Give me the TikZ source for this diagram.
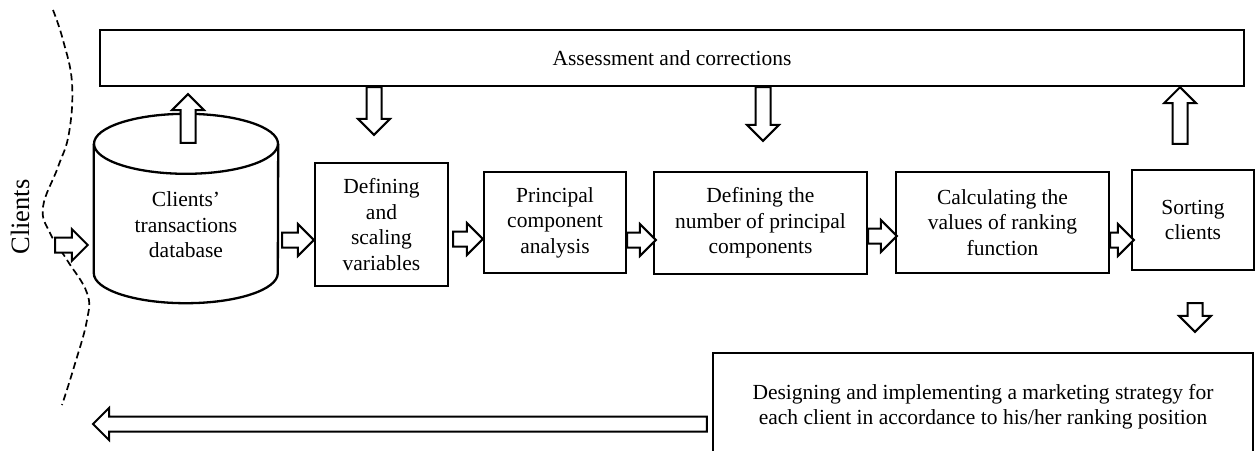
\documentclass[tikz,border=0pt]{standalone}
\usepackage{fontspec}
\setmainfont{Liberation Serif}
\usetikzlibrary{calc}

\begin{document}
\begin{tikzpicture}[x=1pt, y=-1pt,
    every node/.style={font=\fontsize{21.5}{25.5}\selectfont, align=center, inner sep=0pt},
    stagebox/.style={draw, line width=2.3pt},
    hollow/.style={draw, fill=white, line width=2pt, line join=miter, to path={
        let \p1=(\tikztostart), \p2=(\tikztotarget),
            \n1={veclen(\x2-\x1,\y2-\y1)}, \n2={atan2(\y2-\y1,\x2-\x1)} in
        {[shift={(\p1)}, rotate=\n2]
        (0pt,-7.5pt) -- ({\n1*1pt-16pt},-7.5pt) -- ({\n1*1pt-16pt},-16pt) -- ({\n1*1pt},0pt)
        -- ({\n1*1pt-16pt},16pt) -- ({\n1*1pt-16pt},7.5pt) -- (0pt,7.5pt) -- cycle}}}]
            \clip (0,0) rectangle (1255,450);

            \node[stagebox, minimum width=1144pt, minimum height=56pt] (assess) at (672,58) {Assessment and corrections};

            \node[minimum width=184pt, minimum height=189pt] (db) at (186,208.5) {};
            \draw[line width=2.3pt] ([yshift=-30pt]db.north west) -- ([yshift=30pt]db.south west)
                arc[start angle=180, end angle=360, x radius=92pt, y radius=30pt] -- ([yshift=-30pt]db.north east);
            \draw[line width=2.3pt] ([yshift=-30pt]db.north) ellipse [x radius=92pt, y radius=30pt];
            \node (dbtext) at (186,225) {Clients’\\transactions\\database};

            \node[stagebox, minimum width=133pt, minimum height=123pt] (def) at (381.5,224.5) {Defining\\and\\scaling\\variables};
            \node[stagebox, minimum width=142pt, minimum height=101pt] (pca) at (555,222.5) {Principal\\component\\analysis};
            \node[stagebox, minimum width=213pt, minimum height=102pt] (num) at (760.5,223) {Defining the\\number of principal\\components};
            \node[stagebox, minimum width=213pt, minimum height=101pt] (calc) at (1002.5,222.5) {Calculating the\\values of ranking\\function};
            \node[stagebox, minimum width=122pt, minimum height=100pt] (sort) at (1193,220) {Sorting\\clients};
            \node[stagebox, minimum width=540pt, minimum height=107pt] (mkt) at (983,406.5) {Designing and implementing a marketing strategy for\\each client in accordance to his/her ranking position};

            \node[font=\fontsize{26.5}{30}\selectfont, rotate=90] (clients) at (20,217) {Clients};
            \draw[line width=1.7pt, dash pattern=on 7pt off 4pt] plot[smooth, tension=0.7] coordinates
                {(53,10) (63,40) (72,83) (69,133) (58,167) (43,207) (50,233) (67,260) (87,293) (87,320) (74,367) (62,405)};

            \coordinate (cl) at (55,245);
            \coordinate (out) at (93,424);

            \draw[hollow] (cl) to ([xshift=-6pt,yshift=-36.5pt]db.west);
            \draw[hollow] ([xshift=4pt,yshift=-31.5pt]db.east) to ([yshift=-15.5pt]def.west);
            \draw[hollow] ([xshift=4pt,yshift=-14.5pt]def.east) to ([yshift=-16.5pt]pca.west);
            \draw[hollow] ([yshift=-17.5pt]pca.east) to ([xshift=3pt,yshift=-17pt]num.west);
            \draw[hollow] ([yshift=-13pt]num.east) to ([xshift=2pt,yshift=-13.5pt]calc.west);
            \draw[hollow] ([yshift=-17.5pt]calc.east) to ([xshift=3pt,yshift=-20pt]sort.west);

            \draw[hollow] ([xshift=2pt,yshift=-29pt]db.north) to ($(assess.south -| db.north)+(2pt,-7pt)$);
            \draw[hollow] ($(assess.south -| def.north)+(-7.5pt,0pt)$) to ([xshift=-7.5pt,yshift=27pt]def.north);
            \draw[hollow] ($(assess.south -| num.north)+(2.5pt,0pt)$) to ([xshift=2.5pt,yshift=30pt]num.north);
            \draw[hollow] ([xshift=-13pt,yshift=25pt]sort.north) to ($(assess.south -| sort.north)+(-13pt,0pt)$);
            \draw[hollow] ([xshift=2pt,yshift=-32pt]sort.south) to ($(mkt.north -| sort.south)+(2pt,20pt)$);
            \draw[hollow] ([xshift=-5pt,yshift=-17.5pt]mkt.west) to (out);
        \end{tikzpicture}
\end{document}
